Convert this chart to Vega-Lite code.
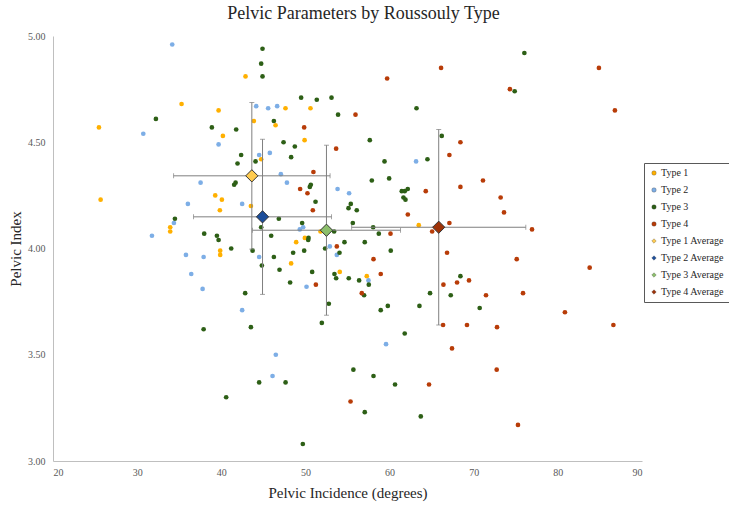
{
  "$schema": "https://vega.github.io/schema/vega-lite/v6.json",
  "width": 589,
  "height": 425,
  "autosize": {"type": "none"},
  "padding": {"left": 53, "top": 36, "right": 87, "bottom": 46},
  "background": "white",
  "title": {
    "text": "Pelvic Parameters by Roussouly Type",
    "font": "Liberation Serif",
    "fontSize": 18,
    "fontWeight": "normal",
    "color": "#262626",
    "anchor": "middle",
    "frame": "group",
    "dx": 16,
    "offset": 8
  },
  "config": {
    "view": {"stroke": null},
    "font": "Liberation Serif",
    "axis": {
      "grid": false,
      "ticks": false,
      "domainColor": "#bfbfbf",
      "labelFont": "Liberation Serif",
      "labelFontSize": 10,
      "labelColor": "#595959",
      "titleFont": "Liberation Serif",
      "titleFontSize": 15,
      "titleFontWeight": "normal",
      "titleColor": "#262626"
    }
  },
  "datasets": {
    "points": [
      {"type": "Type 1", "incidence": 42.88, "index": 4.81},
      {"type": "Type 1", "incidence": 35.28, "index": 4.68},
      {"type": "Type 1", "incidence": 39.68, "index": 4.65},
      {"type": "Type 1", "incidence": 25.46, "index": 4.57},
      {"type": "Type 1", "incidence": 43.87, "index": 4.60},
      {"type": "Type 1", "incidence": 40.19, "index": 4.53},
      {"type": "Type 1", "incidence": 47.63, "index": 4.66},
      {"type": "Type 1", "incidence": 50.60, "index": 4.66},
      {"type": "Type 1", "incidence": 46.45, "index": 4.58},
      {"type": "Type 1", "incidence": 49.90, "index": 4.51},
      {"type": "Type 1", "incidence": 44.74, "index": 4.42},
      {"type": "Type 1", "incidence": 43.52, "index": 4.20},
      {"type": "Type 1", "incidence": 25.66, "index": 4.23},
      {"type": "Type 1", "incidence": 39.28, "index": 4.25},
      {"type": "Type 1", "incidence": 40.07, "index": 4.23},
      {"type": "Type 1", "incidence": 39.83, "index": 4.18},
      {"type": "Type 1", "incidence": 33.93, "index": 4.10},
      {"type": "Type 1", "incidence": 33.93, "index": 4.08},
      {"type": "Type 1", "incidence": 39.87, "index": 3.99},
      {"type": "Type 1", "incidence": 39.87, "index": 3.97},
      {"type": "Type 1", "incidence": 48.90, "index": 4.03},
      {"type": "Type 1", "incidence": 49.93, "index": 4.05},
      {"type": "Type 1", "incidence": 51.79, "index": 4.08},
      {"type": "Type 1", "incidence": 48.30, "index": 3.93},
      {"type": "Type 1", "incidence": 54.08, "index": 3.89},
      {"type": "Type 1", "incidence": 57.29, "index": 3.87},
      {"type": "Type 1", "incidence": 63.47, "index": 4.11},
      {"type": "Type 2", "incidence": 34.17, "index": 4.96},
      {"type": "Type 2", "incidence": 44.15, "index": 4.67},
      {"type": "Type 2", "incidence": 45.57, "index": 4.66},
      {"type": "Type 2", "incidence": 46.64, "index": 4.67},
      {"type": "Type 2", "incidence": 30.73, "index": 4.54},
      {"type": "Type 2", "incidence": 39.68, "index": 4.49},
      {"type": "Type 2", "incidence": 44.50, "index": 4.44},
      {"type": "Type 2", "incidence": 45.77, "index": 4.45},
      {"type": "Type 2", "incidence": 37.54, "index": 4.31},
      {"type": "Type 2", "incidence": 47.08, "index": 4.35},
      {"type": "Type 2", "incidence": 47.80, "index": 4.31},
      {"type": "Type 2", "incidence": 53.82, "index": 4.28},
      {"type": "Type 2", "incidence": 55.19, "index": 4.26},
      {"type": "Type 2", "incidence": 63.15, "index": 4.41},
      {"type": "Type 2", "incidence": 36.03, "index": 4.21},
      {"type": "Type 2", "incidence": 42.48, "index": 4.21},
      {"type": "Type 2", "incidence": 34.37, "index": 4.12},
      {"type": "Type 2", "incidence": 31.76, "index": 4.06},
      {"type": "Type 2", "incidence": 35.80, "index": 3.97},
      {"type": "Type 2", "incidence": 37.90, "index": 3.96},
      {"type": "Type 2", "incidence": 44.50, "index": 3.96},
      {"type": "Type 2", "incidence": 36.43, "index": 3.88},
      {"type": "Type 2", "incidence": 37.78, "index": 3.81},
      {"type": "Type 2", "incidence": 42.48, "index": 3.71},
      {"type": "Type 2", "incidence": 49.73, "index": 4.10},
      {"type": "Type 2", "incidence": 49.33, "index": 4.09},
      {"type": "Type 2", "incidence": 52.90, "index": 4.01},
      {"type": "Type 2", "incidence": 53.73, "index": 3.97},
      {"type": "Type 2", "incidence": 57.49, "index": 3.85},
      {"type": "Type 2", "incidence": 50.13, "index": 3.82},
      {"type": "Type 2", "incidence": 59.58, "index": 3.55},
      {"type": "Type 2", "incidence": 46.48, "index": 3.50},
      {"type": "Type 2", "incidence": 46.09, "index": 3.40},
      {"type": "Type 3", "incidence": 44.90, "index": 4.94},
      {"type": "Type 3", "incidence": 44.74, "index": 4.87},
      {"type": "Type 3", "incidence": 44.90, "index": 4.81},
      {"type": "Type 3", "incidence": 32.23, "index": 4.61},
      {"type": "Type 3", "incidence": 38.88, "index": 4.57},
      {"type": "Type 3", "incidence": 41.77, "index": 4.56},
      {"type": "Type 3", "incidence": 42.36, "index": 4.44},
      {"type": "Type 3", "incidence": 41.93, "index": 4.40},
      {"type": "Type 3", "incidence": 44.07, "index": 4.41},
      {"type": "Type 3", "incidence": 41.53, "index": 4.30},
      {"type": "Type 3", "incidence": 41.70, "index": 4.31},
      {"type": "Type 3", "incidence": 49.49, "index": 4.71},
      {"type": "Type 3", "incidence": 51.35, "index": 4.70},
      {"type": "Type 3", "incidence": 53.10, "index": 4.71},
      {"type": "Type 3", "incidence": 53.88, "index": 4.63},
      {"type": "Type 3", "incidence": 63.20, "index": 4.66},
      {"type": "Type 3", "incidence": 46.25, "index": 4.60},
      {"type": "Type 3", "incidence": 47.40, "index": 4.50},
      {"type": "Type 3", "incidence": 48.74, "index": 4.48},
      {"type": "Type 3", "incidence": 48.30, "index": 4.43},
      {"type": "Type 3", "incidence": 57.65, "index": 4.51},
      {"type": "Type 3", "incidence": 66.20, "index": 4.53},
      {"type": "Type 3", "incidence": 64.50, "index": 4.42},
      {"type": "Type 3", "incidence": 59.40, "index": 4.41},
      {"type": "Type 3", "incidence": 57.89, "index": 4.32},
      {"type": "Type 3", "incidence": 59.95, "index": 4.33},
      {"type": "Type 3", "incidence": 50.52, "index": 4.29},
      {"type": "Type 3", "incidence": 50.64, "index": 4.30},
      {"type": "Type 3", "incidence": 51.20, "index": 4.22},
      {"type": "Type 3", "incidence": 55.39, "index": 4.21},
      {"type": "Type 3", "incidence": 55.12, "index": 4.19},
      {"type": "Type 3", "incidence": 56.10, "index": 4.18},
      {"type": "Type 3", "incidence": 61.45, "index": 4.27},
      {"type": "Type 3", "incidence": 61.80, "index": 4.27},
      {"type": "Type 3", "incidence": 62.16, "index": 4.28},
      {"type": "Type 3", "incidence": 61.65, "index": 4.24},
      {"type": "Type 3", "incidence": 61.89, "index": 4.23},
      {"type": "Type 3", "incidence": 46.84, "index": 4.14},
      {"type": "Type 3", "incidence": 49.61, "index": 4.12},
      {"type": "Type 3", "incidence": 44.74, "index": 4.10},
      {"type": "Type 3", "incidence": 45.93, "index": 4.06},
      {"type": "Type 3", "incidence": 50.37, "index": 4.05},
      {"type": "Type 3", "incidence": 50.33, "index": 4.04},
      {"type": "Type 3", "incidence": 53.41, "index": 4.08},
      {"type": "Type 3", "incidence": 55.63, "index": 4.12},
      {"type": "Type 3", "incidence": 58.05, "index": 4.10},
      {"type": "Type 3", "incidence": 58.72, "index": 4.07},
      {"type": "Type 3", "incidence": 43.72, "index": 3.99},
      {"type": "Type 3", "incidence": 48.54, "index": 3.98},
      {"type": "Type 3", "incidence": 49.85, "index": 3.99},
      {"type": "Type 3", "incidence": 52.34, "index": 4.00},
      {"type": "Type 3", "incidence": 54.64, "index": 4.03},
      {"type": "Type 3", "incidence": 57.05, "index": 4.03},
      {"type": "Type 3", "incidence": 54.05, "index": 3.98},
      {"type": "Type 3", "incidence": 60.14, "index": 3.99},
      {"type": "Type 3", "incidence": 46.25, "index": 3.96},
      {"type": "Type 3", "incidence": 44.82, "index": 3.92},
      {"type": "Type 3", "incidence": 46.92, "index": 3.90},
      {"type": "Type 3", "incidence": 50.80, "index": 3.89},
      {"type": "Type 3", "incidence": 53.45, "index": 3.88},
      {"type": "Type 3", "incidence": 53.65, "index": 3.86},
      {"type": "Type 3", "incidence": 55.15, "index": 3.86},
      {"type": "Type 3", "incidence": 56.38, "index": 3.85},
      {"type": "Type 3", "incidence": 57.53, "index": 3.83},
      {"type": "Type 3", "incidence": 48.18, "index": 3.84},
      {"type": "Type 3", "incidence": 56.97, "index": 3.78},
      {"type": "Type 3", "incidence": 64.81, "index": 3.79},
      {"type": "Type 3", "incidence": 67.27, "index": 3.78},
      {"type": "Type 3", "incidence": 68.42, "index": 3.87},
      {"type": "Type 3", "incidence": 52.78, "index": 3.74},
      {"type": "Type 3", "incidence": 58.95, "index": 3.71},
      {"type": "Type 3", "incidence": 59.79, "index": 3.73},
      {"type": "Type 3", "incidence": 63.55, "index": 3.73},
      {"type": "Type 3", "incidence": 51.95, "index": 3.65},
      {"type": "Type 3", "incidence": 43.52, "index": 3.63},
      {"type": "Type 3", "incidence": 34.49, "index": 4.14},
      {"type": "Type 3", "incidence": 37.97, "index": 4.07},
      {"type": "Type 3", "incidence": 39.48, "index": 4.06},
      {"type": "Type 3", "incidence": 39.68, "index": 4.04},
      {"type": "Type 3", "incidence": 41.18, "index": 4.00},
      {"type": "Type 3", "incidence": 42.84, "index": 3.79},
      {"type": "Type 3", "incidence": 37.90, "index": 3.62},
      {"type": "Type 3", "incidence": 76.02, "index": 4.92},
      {"type": "Type 3", "incidence": 74.87, "index": 4.74},
      {"type": "Type 3", "incidence": 70.71, "index": 3.72},
      {"type": "Type 3", "incidence": 40.58, "index": 3.30},
      {"type": "Type 3", "incidence": 44.50, "index": 3.37},
      {"type": "Type 3", "incidence": 47.64, "index": 3.37},
      {"type": "Type 3", "incidence": 55.70, "index": 3.43},
      {"type": "Type 3", "incidence": 58.09, "index": 3.40},
      {"type": "Type 3", "incidence": 60.65, "index": 3.36},
      {"type": "Type 3", "incidence": 61.80, "index": 3.60},
      {"type": "Type 3", "incidence": 57.05, "index": 3.23},
      {"type": "Type 3", "incidence": 63.71, "index": 3.21},
      {"type": "Type 3", "incidence": 49.69, "index": 3.08},
      {"type": "Type 4", "incidence": 55.95, "index": 4.63},
      {"type": "Type 4", "incidence": 59.71, "index": 4.80},
      {"type": "Type 4", "incidence": 66.12, "index": 4.85},
      {"type": "Type 4", "incidence": 49.85, "index": 4.57},
      {"type": "Type 4", "incidence": 53.65, "index": 4.47},
      {"type": "Type 4", "incidence": 68.42, "index": 4.50},
      {"type": "Type 4", "incidence": 67.11, "index": 4.44},
      {"type": "Type 4", "incidence": 50.95, "index": 4.36},
      {"type": "Type 4", "incidence": 49.37, "index": 4.28},
      {"type": "Type 4", "incidence": 50.24, "index": 4.26},
      {"type": "Type 4", "incidence": 50.88, "index": 4.18},
      {"type": "Type 4", "incidence": 64.30, "index": 4.27},
      {"type": "Type 4", "incidence": 68.42, "index": 4.29},
      {"type": "Type 4", "incidence": 62.17, "index": 4.16},
      {"type": "Type 4", "incidence": 60.11, "index": 4.07},
      {"type": "Type 4", "incidence": 65.06, "index": 4.08},
      {"type": "Type 4", "incidence": 67.11, "index": 4.12},
      {"type": "Type 4", "incidence": 53.73, "index": 4.01},
      {"type": "Type 4", "incidence": 58.09, "index": 3.95},
      {"type": "Type 4", "incidence": 66.83, "index": 3.98},
      {"type": "Type 4", "incidence": 58.95, "index": 3.88},
      {"type": "Type 4", "incidence": 51.24, "index": 3.83},
      {"type": "Type 4", "incidence": 56.70, "index": 3.79},
      {"type": "Type 4", "incidence": 68.02, "index": 3.84},
      {"type": "Type 4", "incidence": 66.40, "index": 3.83},
      {"type": "Type 4", "incidence": 69.44, "index": 3.85},
      {"type": "Type 4", "incidence": 66.36, "index": 3.64},
      {"type": "Type 4", "incidence": 69.20, "index": 3.64},
      {"type": "Type 4", "incidence": 71.10, "index": 4.32},
      {"type": "Type 4", "incidence": 73.20, "index": 4.24},
      {"type": "Type 4", "incidence": 73.60, "index": 4.17},
      {"type": "Type 4", "incidence": 76.93, "index": 4.09},
      {"type": "Type 4", "incidence": 75.11, "index": 3.95},
      {"type": "Type 4", "incidence": 83.78, "index": 3.91},
      {"type": "Type 4", "incidence": 71.46, "index": 3.78},
      {"type": "Type 4", "incidence": 75.86, "index": 3.79},
      {"type": "Type 4", "incidence": 80.84, "index": 3.70},
      {"type": "Type 4", "incidence": 72.77, "index": 3.63},
      {"type": "Type 4", "incidence": 86.60, "index": 3.64},
      {"type": "Type 4", "incidence": 84.88, "index": 4.85},
      {"type": "Type 4", "incidence": 74.30, "index": 4.75},
      {"type": "Type 4", "incidence": 86.78, "index": 4.65},
      {"type": "Type 4", "incidence": 67.42, "index": 3.53},
      {"type": "Type 4", "incidence": 64.69, "index": 3.36},
      {"type": "Type 4", "incidence": 55.36, "index": 3.28},
      {"type": "Type 4", "incidence": 72.73, "index": 3.43},
      {"type": "Type 4", "incidence": 75.26, "index": 3.17}
    ],
    "averages": [
      {"type": "Type 1 Average", "incidence": 43.63, "index": 4.342, "incidenceErr": 9.3, "indexErr": 0.345},
      {"type": "Type 2 Average", "incidence": 44.9, "index": 4.149, "incidenceErr": 8.2, "indexErr": 0.365},
      {"type": "Type 3 Average", "incidence": 52.5, "index": 4.086, "incidenceErr": 8.8, "indexErr": 0.40},
      {"type": "Type 4 Average", "incidence": 65.84, "index": 4.10, "incidenceErr": 10.35, "indexErr": 0.46}
    ]
  },
  "layer": [
    {
      "data": {"name": "points"},
      "mark": {"type": "point", "filled": true, "size": 22, "opacity": 1},
      "encoding": {
        "x": {
          "field": "incidence",
          "type": "quantitative",
          "title": "Pelvic Incidence (degrees)",
          "scale": {"domain": [20, 90], "nice": false, "zero": false},
          "axis": {"values": [20, 30, 40, 50, 60, 70, 80, 90], "labelPadding": 6, "titlePadding": 8}
        },
        "y": {
          "field": "index",
          "type": "quantitative",
          "title": "Pelvic Index",
          "scale": {"domain": [3, 5], "nice": false, "zero": false},
          "axis": {"values": [3, 3.5, 4, 4.5, 5], "format": ".2f", "labelPadding": 8, "titlePadding": 4}
        },
        "color": {
          "field": "type",
          "type": "nominal",
          "scale": {
            "domain": ["Type 1", "Type 2", "Type 3", "Type 4", "Type 1 Average", "Type 2 Average", "Type 3 Average", "Type 4 Average"],
            "range": ["#FFB000", "#7DAEE6", "#2D5F16", "#B83C08", "#FFCB4F", "#1C4E9B", "#8CBF6B", "#9E3207"]
          },
          "legend": {
            "title": null,
            "orient": "none",
            "legendX": 591,
            "legendY": 127,
            "strokeColor": "#595959",
            "padding": 5,
            "rowPadding": 7,
            "symbolSize": 20,
            "symbolStrokeColor": "#333333",
            "symbolStrokeWidth": 0.3,
            "labelFont": "Liberation Serif",
            "labelFontSize": 10,
            "labelColor": "#262626",
            "labelOffset": 2,
            "labelLimit": 100
          }
        },
        "shape": {
          "field": "type",
          "type": "nominal",
          "scale": {
            "domain": ["Type 1", "Type 2", "Type 3", "Type 4", "Type 1 Average", "Type 2 Average", "Type 3 Average", "Type 4 Average"],
            "range": ["circle", "circle", "circle", "circle", "diamond", "diamond", "diamond", "diamond"]
          }
        }
      }
    },
    {
      "data": {"name": "averages"},
      "mark": {"type": "errorbar", "ticks": {"size": 5}, "color": "#7f7f7f", "thickness": 1},
      "encoding": {
        "x": {"field": "incidence", "type": "quantitative", "title": "Pelvic Incidence (degrees)"},
        "xError": {"field": "incidenceErr"},
        "y": {"field": "index", "type": "quantitative", "title": "Pelvic Index"}
      }
    },
    {
      "data": {"name": "averages"},
      "mark": {"type": "errorbar", "ticks": {"size": 5}, "color": "#7f7f7f", "thickness": 1},
      "encoding": {
        "y": {"field": "index", "type": "quantitative", "title": "Pelvic Index"},
        "yError": {"field": "indexErr"},
        "x": {"field": "incidence", "type": "quantitative", "title": "Pelvic Incidence (degrees)"}
      }
    },
    {
      "data": {"name": "averages"},
      "mark": {"type": "point", "filled": true, "size": 150, "opacity": 1, "stroke": "#333333", "strokeWidth": 1},
      "encoding": {
        "x": {"field": "incidence", "type": "quantitative", "title": "Pelvic Incidence (degrees)"},
        "y": {"field": "index", "type": "quantitative", "title": "Pelvic Index"},
        "color": {"field": "type", "type": "nominal"},
        "shape": {"field": "type", "type": "nominal"}
      }
    }
  ]
}
